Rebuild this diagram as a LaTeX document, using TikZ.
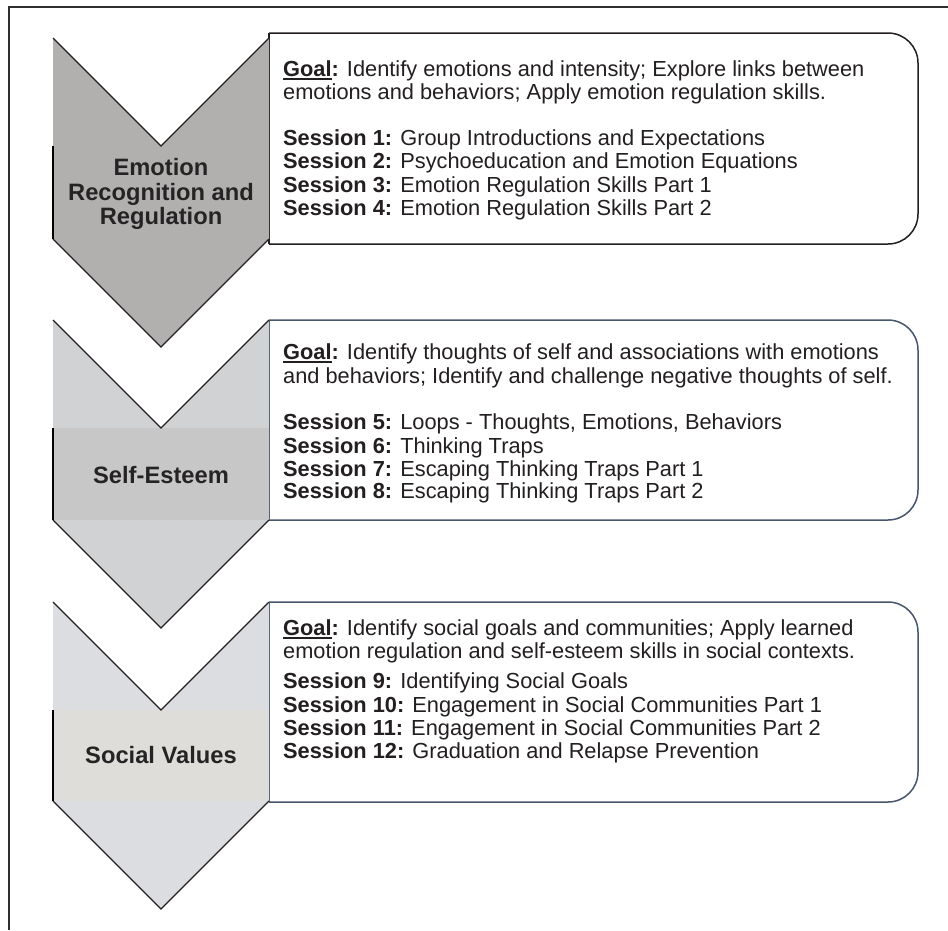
\documentclass[tikz,border=0pt]{standalone}
\usepackage{fontspec}
\setmainfont{Liberation Sans}
\definecolor{ink}{HTML}{231F20}
\definecolor{headink}{HTML}{262324}
\definecolor{frameline}{HTML}{2E2E2E}
\definecolor{slate}{HTML}{46566C}
\definecolor{chevA}{HTML}{B1B0AF}
\definecolor{chevB}{HTML}{D1D2D4}
\definecolor{bandB}{HTML}{C7C7C7}
\definecolor{chevC}{HTML}{DCDDE0}
\definecolor{bandC}{HTML}{DFDDDA}
\newcommand{\goalul}[1]{\setbox0\hbox{#1}\rlap{\rule[-3.5pt]{\wd0}{1.8pt}}\box0}
\newcommand{\goalword}{\textbf{\goalul{Goal}:}}
\begin{document}
\begin{tikzpicture}[x=1pt,y=-1pt,
  txt/.style={anchor=base west, inner sep=0pt, text=ink, font=\fontsize{21.8}{23}\selectfont},
  head/.style={anchor=base, inner sep=0pt, text=headink, font=\fontsize{23.7}{24.5}\selectfont\bfseries},
  boxline/.style={line width=1.5pt},
  chevedge/.style={line width=1.2pt, draw=ink, line join=miter},
  bandedge/.style={line width=2.2pt, draw=black}
]
\useasboundingbox (0,0) rectangle (948,930);
\fill[white] (0,0) rectangle (948,930);
% frame
\draw[line width=1.2pt, frameline] (9,930) -- (9,7) -- (948,7);

% ---------- boxes ----------
\draw[boxline, draw=ink, rounded corners=30pt] (269,33) -- (918,33) -- (918,244) -- (269,244);
\draw[boxline, draw=ink] (269,33) -- (269,244);
\draw[boxline, draw=slate, rounded corners=30pt] (269,320) -- (918,320) -- (918,520) -- (269,520);
\draw[boxline, draw=slate] (269,320) -- (269,520);
\draw[boxline, draw=slate, rounded corners=30pt] (269,602) -- (918,602) -- (918,802) -- (269,802);
\draw[boxline, draw=slate] (269,602) -- (269,802);

% ---------- chevron 1 ----------
\coordinate (a1) at (53,38);  \coordinate (n1) at (161,146); \coordinate (b1) at (269,38);
\coordinate (c1) at (269,239); \coordinate (t1) at (161,347); \coordinate (d1) at (53,239);
\coordinate (e1) at (53,146);
\fill[chevA] (a1) -- (n1) -- (b1) -- (c1) -- (t1) -- (d1) -- cycle;
\draw[chevedge] (a1) -- (n1) -- (b1);
\draw[chevedge] (c1) -- (t1) -- (d1);
\draw[bandedge] (e1) -- (d1);
\node[head] (h1a) at (161,175) {Emotion};
\node[head] (h1b) at (161,200) {Recognition and};
\node[head] (h1c) at (161,224.5) {Regulation};

% ---------- chevron 2 ----------
\coordinate (a2) at (53,320);  \coordinate (n2) at (161,428); \coordinate (b2) at (269,320);
\coordinate (c2) at (269,520); \coordinate (t2) at (161,628); \coordinate (d2) at (53,520);
\coordinate (e2) at (53,428);
\fill[chevB] (a2) -- (n2) -- (b2) -- (c2) -- (t2) -- (d2) -- cycle;
\fill[bandB] (e2) rectangle (c2);
\draw[chevedge] (a2) -- (n2) -- (b2);
\draw[chevedge] (c2) -- (t2) -- (d2);
\draw[bandedge] (e2) -- (d2);
\node[head] (h2) at (161,483) {Self-Esteem};

% ---------- chevron 3 ----------
\coordinate (a3) at (53,602);  \coordinate (n3) at (161,710); \coordinate (b3) at (269,602);
\coordinate (c3) at (269,801); \coordinate (t3) at (161,909); \coordinate (d3) at (53,801);
\coordinate (e3) at (53,710);
\fill[chevC] (a3) -- (n3) -- (b3) -- (c3) -- (t3) -- (d3) -- cycle;
\fill[bandC] (e3) rectangle (c3);
\draw[chevedge] (a3) -- (n3) -- (b3);
\draw[chevedge] (c3) -- (t3) -- (d3);
\draw[bandedge] (e3) -- (d3);
\node[head] (h3) at (161,763) {Social Values};

% ---------- box 1 text ----------
\node[txt] (g1a) at (283,76) {\goalword{} Identify emotions and intensity; Explore links between};
\node[txt] (g1b) at (283,99) {emotions and behaviors; Apply emotion regulation skills.};
\node[txt] (s1) at (283,145) {\textbf{Session 1:} Group Introductions and Expectations};
\node[txt] (s2) at (283,168) {\textbf{Session 2:} Psychoeducation and Emotion Equations};
\node[txt] (s3) at (283,192) {\textbf{Session 3:} Emotion Regulation Skills Part 1};
\node[txt] (s4) at (283,215) {\textbf{Session 4:} Emotion Regulation Skills Part 2};

% ---------- box 2 text ----------
\node[txt] (g2a) at (283,359) {\goalword{} Identify thoughts of self and associations with emotions};
\node[txt] (g2b) at (283,383) {and behaviors; Identify and challenge negative thoughts of self.};
\node[txt] (s5) at (283,429) {\textbf{Session 5:} Loops - Thoughts, Emotions, Behaviors};
\node[txt] (s6) at (283,453) {\textbf{Session 6:} Thinking Traps};
\node[txt] (s7) at (283,476) {\textbf{Session 7:} Escaping Thinking Traps Part 1};
\node[txt] (s8) at (283,498) {\textbf{Session 8:} Escaping Thinking Traps Part 2};

% ---------- box 3 text ----------
\node[txt] (g3a) at (283,635) {\goalword{} Identify social goals and communities; Apply learned};
\node[txt] (g3b) at (283,658) {emotion regulation and self-esteem skills in social contexts.};
\node[txt] (s9) at (283,688) {\textbf{Session 9:} Identifying Social Goals};
\node[txt] (s10) at (283,712) {\textbf{Session 10:} Engagement in Social Communities Part 1};
\node[txt] (s11) at (283,735) {\textbf{Session 11:} Engagement in Social Communities Part 2};
\node[txt] (s12) at (283,758) {\textbf{Session 12:} Graduation and Relapse Prevention};
\end{tikzpicture}
\end{document}
